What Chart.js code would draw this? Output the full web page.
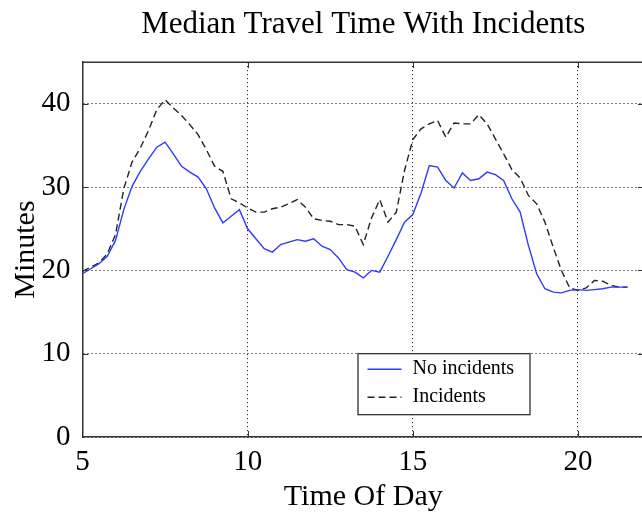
<!DOCTYPE html>
<html>
<head>
<meta charset="utf-8">
<script src="https://cdn.jsdelivr.net/npm/chart.js@4"></script>
</head>
<body style="margin:0;overflow:hidden;background:#fff">
<canvas id="chart" width="648" height="517"></canvas>
<script>
// time of day (hours), one sample every 15 min
const hours = [
  5, 5.25, 5.5, 5.75, 6, 6.25, 6.5, 6.75, 7, 7.25,
  7.5, 7.75, 8, 8.25, 8.5, 8.75, 9, 9.25, 9.5, 9.75,
  10, 10.25, 10.5, 10.75, 11, 11.25, 11.5, 11.75, 12, 12.25,
  12.5, 12.75, 13, 13.25, 13.5, 13.75, 14, 14.25, 14.5, 14.75,
  15, 15.25, 15.5, 15.75, 16, 16.25, 16.5, 16.75, 17, 17.25,
  17.5, 17.75, 18, 18.25, 18.5, 18.75, 19, 19.25, 19.5, 19.75,
  20, 20.25, 20.5, 20.75, 21, 21.25, 21.5
];
const noIncidents = [
  19.6, 20.2, 20.8, 21.7, 23.6, 27.3, 30.1, 31.9, 33.4, 34.8,
  35.4, 34.0, 32.5, 31.8, 31.2, 29.8, 27.5, 25.7, 26.5, 27.3,
  25.0, 23.8, 22.6, 22.2, 23.1, 23.4, 23.7, 23.5, 23.8, 22.9,
  22.5, 21.5, 20.1, 19.8, 19.1, 20.0, 19.8, 21.7, 23.7, 25.8,
  26.7, 29.3, 32.6, 32.4, 30.8, 29.9, 31.7, 30.8, 31.0, 31.8,
  31.5, 30.8, 28.6, 27.0, 23.0, 19.6, 17.8, 17.4, 17.3, 17.6,
  17.7, 17.6, 17.7, 17.8, 18.0, 18.0, 18.0
];
const incidents = [
  19.9, 20.4, 20.9, 22.0, 24.3, 29.8, 33.0, 34.7, 36.8, 39.3,
  40.5, 39.5, 38.6, 37.5, 36.3, 34.5, 32.5, 31.9, 28.6, 28.1,
  27.5, 27.0, 27.0, 27.4, 27.6, 28.0, 28.5, 27.6, 26.2, 26.0,
  25.9, 25.5, 25.5, 25.3, 23.1, 26.3, 28.5, 25.8, 27.0, 32.0,
  35.7, 37.0, 37.6, 38.0, 36.0, 37.7, 37.6, 37.6, 38.7, 37.6,
  35.8, 34.0, 32.1, 31.1, 29.0, 28.0, 25.8, 22.8, 20.0, 17.9,
  17.6, 17.9, 18.8, 18.7, 18.2, 18.0, 18.0
];
const xTicks = [5, 10, 15, 20];
const yTicks = [0, 10, 20, 30, 40];

const serif = 'Liberation Serif';
const toPoints = (vals) => vals.map((v, i) => ({ x: hours[i], y: v }));

// top frame line + matlab-style inward tick marks
const framePlugin = {
  id: 'frame',
  afterDraw(chart) {
    const { ctx, chartArea: a, scales } = chart;
    ctx.save();
    ctx.strokeStyle = '#333';
    ctx.lineWidth = 1.5;
    ctx.beginPath();
    ctx.moveTo(a.left, a.top);
    ctx.lineTo(a.right, a.top);
    ctx.lineTo(a.right, a.bottom);
    ctx.stroke();
    ctx.lineWidth = 1;
    ctx.beginPath();
    xTicks.slice(1).forEach(v => {
      const px = Math.round(scales.x.getPixelForValue(v)) + 0.5;
      ctx.moveTo(px, a.bottom); ctx.lineTo(px, a.bottom - 6);
      ctx.moveTo(px, a.top); ctx.lineTo(px, a.top + 6);
    });
    yTicks.slice(1).forEach(v => {
      const py = Math.round(scales.y.getPixelForValue(v)) + 0.5;
      ctx.moveTo(a.left, py); ctx.lineTo(a.left + 6, py);
      ctx.moveTo(a.right, py); ctx.lineTo(a.right - 6, py);
    });
    ctx.stroke();
    ctx.restore();
  }
};

// boxed legend inside the plot
const legendPlugin = {
  id: 'boxLegend',
  afterDraw(chart) {
    const { ctx, chartArea: a } = chart;
    const x = a.left + 275, y = a.top + 291, w = 172, h = 61;
    ctx.save();
    ctx.fillStyle = '#fff';
    ctx.fillRect(x, y, w, h);
    ctx.strokeStyle = '#222';
    ctx.lineWidth = 1.2;
    ctx.strokeRect(x + 0.5, y + 0.5, w, h);
    ctx.font = '20px "' + serif + '"';
    ctx.textBaseline = 'middle';
    chart.data.datasets.forEach((ds, i) => {
      const ly = y + 16 + i * 28;
      ctx.strokeStyle = ds.borderColor;
      ctx.lineWidth = ds.borderWidth;
      ctx.setLineDash(ds.borderDash || []);
      ctx.beginPath();
      ctx.moveTo(x + 10, ly);
      ctx.lineTo(x + 44, ly);
      ctx.stroke();
      ctx.setLineDash([]);
      ctx.fillStyle = '#000';
      ctx.fillText(ds.label, x + 55, ly);
    });
    ctx.restore();
  }
};

new Chart(document.getElementById('chart'), {
  type: 'line',
  data: {
    datasets: [
      {
        label: 'No incidents',
        data: toPoints(noIncidents),
        borderColor: '#2f3aff',
        borderWidth: 1.4,
        pointRadius: 0,
        tension: 0,
      },
      {
        label: 'Incidents',
        data: toPoints(incidents),
        borderColor: '#222',
        borderWidth: 1.4,
        borderDash: [7, 4],
        pointRadius: 0,
        tension: 0,
      }
    ]
  },
  options: {
    responsive: false,
    animation: false,
    layout: { padding: { left: 0, right: 4, top: 0, bottom: 0 } },
    plugins: {
      legend: { display: false },
      tooltip: { enabled: false },
      title: {
        display: true,
        fullSize: false,
        text: 'Median Travel Time With Incidents',
        color: '#000',
        font: { family: serif, size: 31, weight: 'normal' },
        padding: { top: 6, bottom: 19 },
      },
    },
    scales: {
      x: {
        type: 'linear',
        min: 5,
        max: 22,
        afterFit: (s) => { s.height = 80; },
        afterBuildTicks: (s) => { s.ticks = xTicks.map(v => ({ value: v })); },
        ticks: { color: '#000', padding: 8, font: { family: serif, size: 29 } },
        grid: { color: '#000', lineWidth: 1, drawTicks: false },
        border: { display: true, color: '#333', width: 1.5, dash: [1, 3] },
        title: {
          display: true,
          text: 'Time Of Day',
          color: '#000',
          font: { family: serif, size: 30 },
          padding: { top: 0, bottom: 2 },
        },
      },
      y: {
        min: 0,
        max: 45,
        afterFit: (s) => { s.width = 82.5; },
        afterBuildTicks: (s) => { s.ticks = yTicks.map(v => ({ value: v })); },
        ticks: { color: '#000', padding: 12, font: { family: serif, size: 29 } },
        grid: { color: '#000', lineWidth: 1, drawTicks: false },
        border: { display: true, color: '#333', width: 1.5, dash: [1, 3] },
        title: {
          display: true,
          text: 'Minutes',
          color: '#000',
          font: { family: serif, size: 30 },
          padding: { top: 8, bottom: 0 },
        },
      }
    }
  },
  plugins: [framePlugin, legendPlugin]
});
</script>
</body>
</html>
